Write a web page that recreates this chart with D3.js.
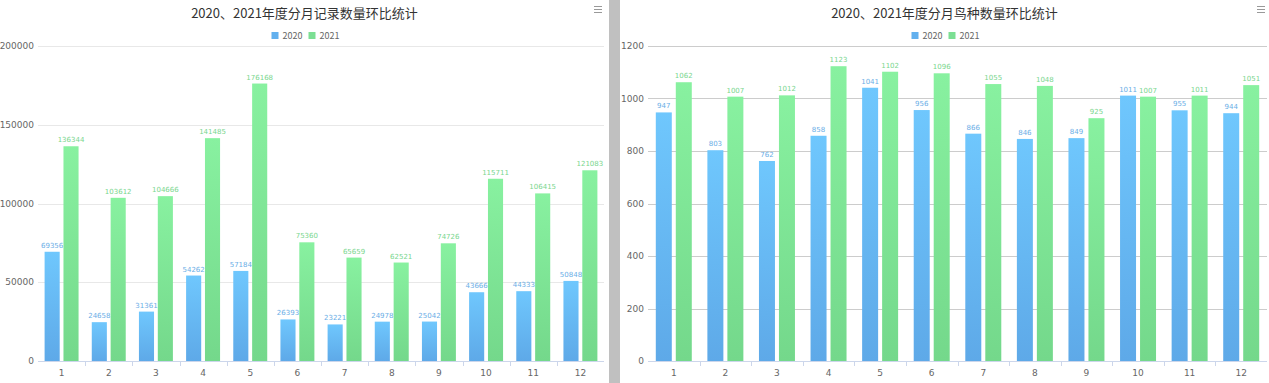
<!DOCTYPE html>
<html lang="zh">
<head>
<meta charset="UTF-8">
<title>环比统计</title>
<script src="https://cdn.jsdelivr.net/npm/d3@7/dist/d3.min.js"></script>
<style>
  html, body { margin: 0; padding: 0; background: #fff; }
  svg { display: block; font-family: "Noto Sans CJK SC", "DejaVu Sans", sans-serif; }
</style>
</head>
<body>
<svg id="chart" width="1269" height="383"></svg>
<script>
// 数据
var months = ['1', '2', '3', '4', '5', '6', '7', '8', '9', '10', '11', '12'];
var seriesNames = ['2020', '2021'];

var records2020 = [69356, 24658, 31361, 54262, 57184, 26393, 23221, 24978, 25042, 43666, 44333, 50848];
var records2021 = [136344, 103612, 104666, 141485, 176168, 75360, 65659, 62521, 74726, 115711, 106415, 121083];
var recordTicks = [0, 50000, 100000, 150000, 200000];

var species2020 = [947, 803, 762, 858, 1041, 956, 866, 846, 849, 1011, 955, 944];
var species2021 = [1062, 1007, 1012, 1123, 1102, 1096, 1055, 1048, 925, 1007, 1011, 1051];
var speciesTicks = [0, 200, 400, 600, 800, 1000, 1200];

var svg = d3.select('#chart');

// 渐变
var defs = svg.append('defs');
function gradient(id, top, bottom) {
  var g = defs.append('linearGradient').attr('id', id)
    .attr('x1', 0).attr('y1', 0).attr('x2', 0).attr('y2', 1);
  g.append('stop').attr('offset', '0%').attr('stop-color', top);
  g.append('stop').attr('offset', '100%').attr('stop-color', bottom);
}
gradient('gBlue', '#6fc7fd', '#5ea9e8');
gradient('gGreen', '#88f1a0', '#74d88b');
var fills = ['url(#gBlue)', 'url(#gGreen)'];
var labelColors = ['#6aaee6', '#79d68e'];
var legendColors = ['#62b0ee', '#7cdf93'];

// 两个面板中间的灰条
svg.append('rect').attr('x', 609).attr('y', 0).attr('width', 11).attr('height', 383).attr('fill', '#c0c0c0');

function drawChart(opt) {
  var g = svg.append('g');
  var cx = (opt.left + opt.right) / 2;

  // 标题
  g.append('text').attr('x', cx).attr('y', 18).attr('text-anchor', 'middle')
    .attr('font-size', 13).attr('fill', '#333').text(opt.title);

  // 菜单图标
  [0, 3, 6].forEach(function (dy) {
    g.append('line').attr('x1', opt.menuX).attr('x2', opt.menuX + 8)
      .attr('y1', 6.5 + dy).attr('y2', 6.5 + dy)
      .attr('stroke', '#999').attr('stroke-width', 1);
  });

  // 图例
  var legend = g.append('g').attr('transform', 'translate(' + (cx - 33) + ',36)');
  seriesNames.forEach(function (name, i) {
    var lg = legend.append('g').attr('transform', 'translate(' + (i * 37) + ',0)');
    lg.append('rect').attr('x', 0).attr('y', -4).attr('width', 7).attr('height', 7).attr('fill', legendColors[i]);
    lg.append('text').attr('x', 11).attr('y', 3).attr('font-size', 9).attr('fill', '#666').text(name);
  });

  var x = d3.scaleBand().domain(months).range([opt.x0, opt.x1]).padding(0);
  var x1 = d3.scaleBand().domain(seriesNames).range([0, x.bandwidth()])
    .paddingInner(0.2).paddingOuter(opt.outer);
  var y = d3.scaleLinear().domain([0, opt.max]).range([361, 46]);

  // 网格
  g.append('g').selectAll('line').data(opt.ticks.slice(1)).enter().append('line')
    .attr('x1', opt.x0).attr('x2', opt.x1)
    .attr('y1', function (d) { return Math.round(y(d)) + 0.5; })
    .attr('y2', function (d) { return Math.round(y(d)) + 0.5; })
    .attr('stroke', opt.gridColor).attr('stroke-width', 1);

  // y 轴文字
  g.append('g').selectAll('text').data(opt.ticks).enter().append('text')
    .attr('x', opt.x0 - 4).attr('y', function (d) { return y(d) + 3; })
    .attr('text-anchor', 'end').attr('font-size', 9).attr('fill', '#666')
    .attr('font-family', 'DejaVu Sans')
    .text(function (d) { return d; });

  // 柱
  var series = [opt.a, opt.b];
  series.forEach(function (vals, si) {
    var sg = g.append('g');
    sg.selectAll('rect').data(vals).enter().append('rect')
      .attr('x', function (d, i) { return x(months[i]) + x1(seriesNames[si]); })
      .attr('y', function (d) { return y(d); })
      .attr('width', x1.bandwidth())
      .attr('height', function (d) { return 361 - y(d); })
      .attr('fill', fills[si]);
    sg.selectAll('text').data(vals).enter().append('text')
      .attr('x', function (d, i) { return x(months[i]) + x1(seriesNames[si]) + x1.bandwidth() / 2; })
      .attr('y', function (d) { return y(d) - 4; })
      .attr('text-anchor', 'middle').attr('font-size', 7)
      .attr('font-family', 'DejaVu Sans')
      .attr('fill', labelColors[si])
      .text(function (d) { return d; });
  });

  // x 轴
  var xa = g.append('g');
  xa.append('line').attr('x1', opt.x0).attr('x2', opt.x1).attr('y1', 361.5).attr('y2', 361.5)
    .attr('stroke', '#ccd6eb');
  xa.selectAll('line.tick').data(months.slice(1)).enter().append('line').attr('class', 'tick')
    .attr('x1', function (d) { return Math.round(x(d)) + 0.5; })
    .attr('x2', function (d) { return Math.round(x(d)) + 0.5; })
    .attr('y1', 361).attr('y2', 366).attr('stroke', '#ccd6eb');
  xa.selectAll('text').data(months).enter().append('text')
    .attr('x', function (d) { return x(d) + x.bandwidth() / 2; })
    .attr('y', 376).attr('text-anchor', 'middle').attr('font-size', 9).attr('fill', '#666')
    .attr('font-family', 'DejaVu Sans')
    .text(function (d) { return d; });
}

drawChart({
  title: '2020、2021年度分月记录数量环比统计',
  left: 0, right: 609, menuX: 594,
  x0: 38, x1: 604, outer: 0.35,
  max: 200000, ticks: recordTicks,
  gridColor: '#e8e8e8',
  a: records2020, b: records2021
});

drawChart({
  title: '2020、2021年度分月鸟种数量环比统计',
  left: 620, right: 1269, menuX: 1257,
  x0: 648, x1: 1267, outer: 0.39,
  max: 1200, ticks: speciesTicks,
  gridColor: '#cccccc',
  a: species2020, b: species2021
});
</script>
</body>
</html>
